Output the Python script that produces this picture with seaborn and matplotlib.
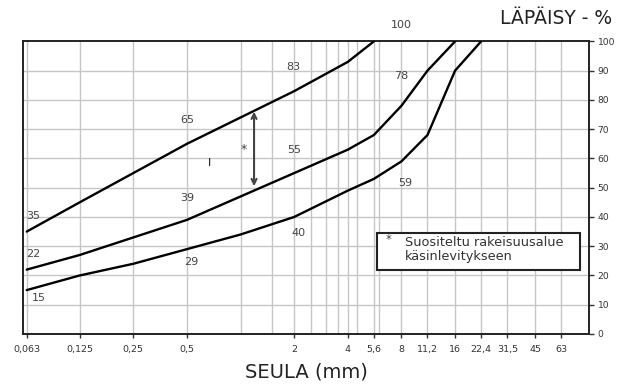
import matplotlib
matplotlib.use("Agg")
import matplotlib.pyplot as plt
import numpy as np
import pandas as pd
import seaborn as sns

# Sieve sizes (mm) and passing percentages for the three grading curves
sieve_upper = [0.063, 0.125, 0.25, 0.5, 1, 2, 4, 5.6]
pass_upper = [35, 45, 55, 65, 74, 83, 93, 100]

sieve_middle = [0.063, 0.125, 0.25, 0.5, 1, 2, 4, 5.6, 8, 11.2, 16]
pass_middle = [22, 27, 33, 39, 47, 55, 63, 68, 78, 90, 100]

sieve_lower = [0.063, 0.125, 0.25, 0.5, 1, 2, 4, 5.6, 8, 11.2, 16, 22.4]
pass_lower = [15, 20, 24, 29, 34, 40, 49, 53, 59, 68, 90, 100]

# Labelled sieve sizes on the x axis and extra grid-only sieves
tick_sieves = [0.063, 0.125, 0.25, 0.5, 2, 4, 5.6, 8, 11.2, 16, 22.4, 31.5, 45, 63]
tick_labels = ["0,063", "0,125", "0,25", "0,5", "2", "4", "5,6", "8", "11,2",
               "16", "22,4", "31,5", "45", "63"]
grid_only_sieves = [1, 1.5, 2.5, 3, 3.5, 4.5, 6]
y_ticks = list(range(0, 101, 10))

df = pd.concat([
    pd.DataFrame({"seula": sieve_upper, "lapaisy": pass_upper, "kayra": "ylä"}),
    pd.DataFrame({"seula": sieve_middle, "lapaisy": pass_middle, "kayra": "keski"}),
    pd.DataFrame({"seula": sieve_lower, "lapaisy": pass_lower, "kayra": "ala"}),
], ignore_index=True)

sns.set_style("white")
plt.rcParams["font.family"] = ["DejaVu Sans"]

fig = plt.figure(figsize=(6.2, 3.85), dpi=100)
ax = fig.add_axes([0.0366, 0.1325, 0.914, 0.760])

ax.set_xscale("log", base=2)
ax.set_xlim(0.0598, 90.8)
ax.set_ylim(0, 100)

# grid
grid_kw = dict(color="#c6c6c6", lw=1.0, zorder=0)
for s in tick_sieves + grid_only_sieves:
    ax.axvline(s, **grid_kw)
for v in y_ticks[1:-1]:
    ax.axhline(v, **grid_kw)

sns.lineplot(data=df, x="seula", y="lapaisy", units="kayra", estimator=None,
             color="black", lw=1.7, ax=ax, legend=False, zorder=3, sort=False)

ax.set_xticks(tick_sieves)
ax.set_xticklabels(tick_labels)
ax.xaxis.set_minor_locator(matplotlib.ticker.NullLocator())
ax.tick_params(axis="x", which="major", length=3, width=1.0, color="#333333",
               labelsize=6.8, labelcolor="#333333", pad=5, direction="out",
               bottom=True)

ax.yaxis.tick_right()
ax.set_yticks(y_ticks)
ax.set_yticklabels([str(v) for v in y_ticks])
ax.tick_params(axis="y", length=3.5, width=1.0, color="#333333",
               labelsize=6.6, labelcolor="#333333", pad=2.5, direction="out",
               right=True, left=False)

for sp in ax.spines.values():
    sp.set_visible(True)
    sp.set_color("#222222")
    sp.set_linewidth(1.4)

ax.set_xlabel("")
ax.set_ylabel("")

# value labels along the curves: (sieves, values, index, offset in px)
curve_labels = [
    (sieve_upper, pass_upper, 5, (-1, 24)),
    (sieve_middle, pass_middle, 8, (0, 30)),
    (sieve_upper, pass_upper, 3, (0, 24)),
    (sieve_middle, pass_middle, 5, (0, 23)),
    (sieve_lower, pass_lower, 8, (4, -22)),
    (sieve_middle, pass_middle, 3, (0, 22)),
    (sieve_upper, pass_upper, 0, (6, 16)),
    (sieve_middle, pass_middle, 0, (7, 16)),
    (sieve_lower, pass_lower, 5, (4, -16)),
    (sieve_lower, pass_lower, 3, (4, -13)),
    (sieve_lower, pass_lower, 0, (12, -8)),
    (sieve_upper, pass_upper, 7, (27, 16)),
]
for xs, ys, i, (dx, dy) in curve_labels:
    ax.annotate(str(ys[i]), xy=(xs[i], ys[i]), xytext=(dx * 0.72, dy * 0.72),
                textcoords="offset points", ha="center", va="center",
                fontsize=8, color="#444444", annotation_clip=False, zorder=4)

# recommended range for hand laying
ax.annotate("", xy=(1.19, 76), xytext=(1.19, 50.5),
            arrowprops=dict(arrowstyle="<->", color="#444444", lw=1.5,
                            mutation_scale=9, shrinkA=0, shrinkB=0), zorder=4)
ax.text(1.047, 62.9, "*", ha="center", va="center", fontsize=9, color="#444444")
ax.text(0.665, 58.4, "I", ha="center", va="center", fontsize=8, color="#111111")

# legend box
ax.add_patch(matplotlib.patches.Rectangle(
    (377.3 / 620, 1 - 269.5 / 385), (580 - 377.3) / 620, (269.5 - 233) / 385,
    transform=fig.transFigure, fill=True, facecolor="white", edgecolor="#222222",
    lw=1.5, zorder=5, clip_on=False))
fig.text(389 / 620, 1 - 240 / 385, "*", fontsize=8.5, color="#444444",
         ha="center", va="center", zorder=6)
fig.text(405 / 620, 1 - 242.5 / 385, "Suositeltu rakeisuusalue", fontsize=9.3,
         color="#333333", ha="left", va="center", zorder=6)
fig.text(405 / 620, 1 - 256.5 / 385, "käsinlevitykseen", fontsize=9.3,
         color="#333333", ha="left", va="center", zorder=6)

fig.text(306 / 620, 1 - 372 / 385, "SEULA (mm)", fontsize=14, color="#222222",
         ha="center", va="center")
fig.text(612 / 620, 1 - 18 / 385, "LÄPÄISY - %", fontsize=13.5, color="#222222",
         ha="right", va="center")

fig.savefig("out.png", dpi=100)
